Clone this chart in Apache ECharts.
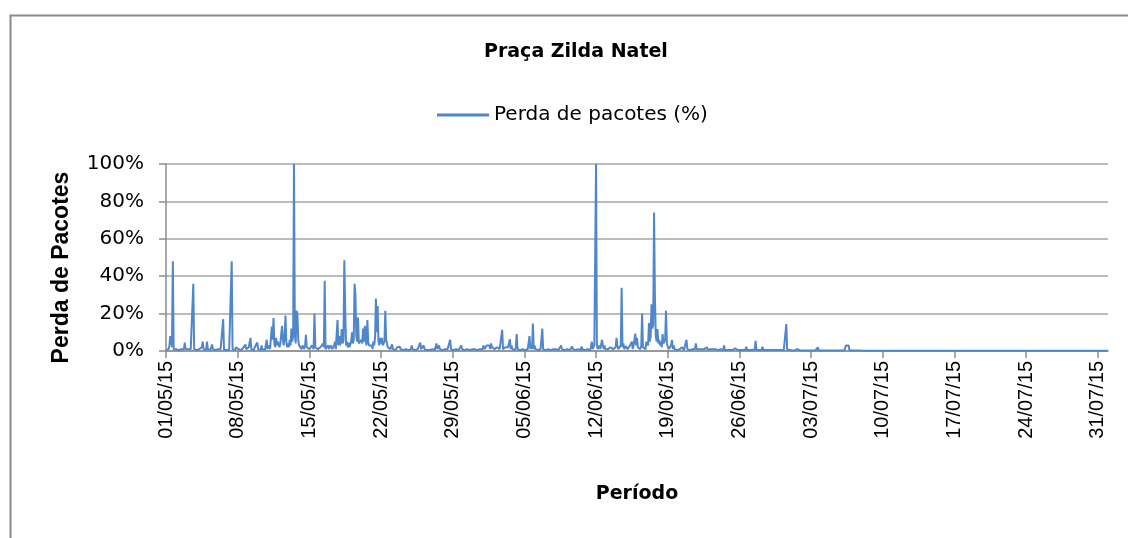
<!DOCTYPE html>
<html>
<head>
<meta charset="utf-8">
<script src="https://cdn.jsdelivr.net/npm/echarts@6/dist/echarts.min.js"></script>
<style>
  html, body { margin: 0; padding: 0; background: #fff; }
  #chart { width: 1128px; height: 538px; }
</style>
</head>
<body>
<div id="chart"></div>
<script>
// leituras a cada 2 h (00h, 02h, ... 22h), perda em %
var lossMay = [
  [0.5, 1, 0.5, 1, 3, 8, 6, 2, 48, 1, 0.5, 1],          // 01/05
  [1, 0.5, 1, 0.5, 1, 0.5, 1, 0.5, 1, 1, 4.5, 1],
  [1, 0.5, 1, 0.5, 1, 1, 0.5, 1, 36, 1, 0.5, 1],
  [0.5, 1, 0.5, 1, 0.5, 1, 2, 5, 1, 0.5, 1, 0.5],
  [5, 1, 0.5, 1, 0.5, 2, 3.5, 1, 0.5, 1, 0.5, 0.5],
  [0.5, 1, 0.5, 0.5, 1, 0.5, 1, 17, 0.5, 0.5, 1, 0.5],
  [0.5, 1, 0.5, 1, 0.5, 48, 1, 0.5, 1, 0.5, 2, 3],
  [3, 1, 0.5, 1, 0.5, 1, 0.5, 2, 1, 3.5, 1, 0.5],       // 08/05
  [1, 2, 1, 7, 1, 0.5, 1, 0.5, 2, 1, 3, 4.5],
  [1, 2, 1, 0.5, 3, 1, 2, 1, 0.5, 1, 6, 1],
  [1, 3, 1, 2, 13, 6, 17.6, 4, 2, 7, 3, 5],
  [5, 2, 4, 3, 13.5, 6, 3, 8, 19, 5, 2, 4],
  [2, 6, 3, 12, 5, 8, 100, 10, 4, 21.5, 20, 6],
  [3, 2, 4, 1, 3, 2, 1, 3, 8.6, 2, 1, 2],
  [1, 2, 1, 3, 2, 1, 20, 2, 1, 3, 1, 2],                // 15/05
  [1, 2, 1, 3, 4, 2, 37.5, 1, 2, 1, 3, 1],
  [1, 3, 2, 1, 2, 3, 5, 1, 2, 16.5, 3, 8],
  [3, 5, 11.7, 4, 6, 48.5, 22.4, 3, 5, 2, 4.5, 2],
  [3, 5, 10, 4, 6, 36, 30, 8, 5, 18, 4, 5],
  [3, 6, 4, 12, 5, 13.5, 6, 3, 16.5, 5, 3, 4],
  [2, 3, 1, 5, 3, 7, 28, 10, 24, 5, 3, 7],
  [4, 7, 3, 4, 5, 21.5, 6, 7, 2, 1, 3, 1],              // 22/05
  [2, 3.5, 1, 0.5, 1, 0.5, 1, 2, 1, 1, 2.3, 1],
  [0.5, 1, 0.5, 1, 0.5, 1, 0.5, 1, 0.5, 1, 0.5, 1],
  [3, 1, 0.5, 1, 0.5, 1, 0.5, 1, 0.5, 1, 4.5, 1],
  [0.5, 1, 3, 1, 0.5, 1, 0.5, 1, 1, 0.5, 1, 0.5],
  [1, 0.5, 1, 0.5, 1, 4, 1, 0.5, 3, 1, 0.5, 1],
  [0.5, 1, 0.5, 1, 1, 0.5, 1, 2, 1, 6, 1, 0.5],
  [1, 0.5, 1, 0.5, 1, 2, 1, 0.5, 1, 0.5, 3, 1],         // 29/05
  [0.5, 1, 0.5, 1, 0.5, 1, 0.5, 1, 0.5, 1, 0.5, 1],
  [0.5, 2, 1, 0.5, 1, 0.5, 1, 0.5, 1, 0.5, 1, 1]
];
var lossJun = [
  [3, 1, 2, 1, 3, 4, 2, 3, 1, 4, 2, 1],                 // 01/06
  [3, 1, 0.5, 1, 2, 1, 3, 1, 1, 2, 11.3, 1],
  [1, 1, 2, 3, 1, 2, 1, 6.3, 1, 3, 1, 0.5],
  [1, 0.5, 2, 9, 1, 0.5, 1, 0.5, 1, 0.5, 1, 0.5],
  [2, 0.5, 1, 0.5, 1, 2, 8, 1, 3, 1, 14.7, 1],          // 05/06
  [3, 1, 0.5, 1, 0.5, 1, 0.5, 1, 2, 12, 1, 0.5],
  [1, 0.5, 1, 0.5, 1, 0.5, 1, 0.5, 1, 0.5, 1, 0.5],
  [0.5, 1, 0.5, 1, 0.5, 1, 0.5, 3, 1, 0.5, 1, 0.5],
  [1, 0.5, 1, 0.5, 1, 0.5, 1, 0.5, 2.3, 1, 0.5, 1],
  [0.5, 1, 0.5, 1, 0.5, 1, 0.5, 2.3, 1, 0.5, 1, 0.5],
  [1, 0.5, 1, 2, 1, 0.5, 2, 5, 1, 2, 3, 4],
  [100, 3, 1, 2, 3, 1, 2, 6, 3, 1, 3, 1],               // 12/06
  [1, 2, 1, 0.5, 1, 2, 1, 2, 1, 0.5, 1, 2],
  [7, 3, 1, 2, 1, 3, 33.8, 2, 4, 1, 2, 2.5],
  [2.5, 1, 2, 1, 3, 2, 5, 1, 3, 4, 9.3, 3],
  [7, 2, 1, 2, 1, 3, 20, 2, 1, 3, 1, 5],
  [6, 3, 15, 5, 8, 25, 12, 14, 74, 29, 8, 5],
  [11.7, 4, 6, 3, 5, 2, 9, 4, 3, 6, 21.5, 4],
  [4, 1, 2, 1, 3, 6, 1, 3, 1, 0.5, 1, 0.5],             // 19/06
  [1, 0.5, 1, 0.5, 1, 2, 1, 0.5, 1, 1, 6, 1],
  [0.5, 1, 0.5, 1, 0.5, 1, 0.5, 1, 1, 4, 1, 0.5],
  [0.5, 1, 0.5, 0.5, 1, 0.5, 0.5, 1, 0.5, 0.5, 2, 0.5],
  [0.5, 0.5, 1, 0.5, 0.5, 1, 0.5, 0.5, 1, 0.5, 0.5, 0.5],
  [0.5, 0.5, 1, 0.5, 0.5, 0.5, 3, 0.5, 0.5, 1, 0.5, 0.5],
  [0.5, 0.5, 0.5, 0.5, 0.5, 0.5, 0.5, 1.5, 0.5, 0.5, 0.5, 0.5],
  [0.5, 0.5, 0.5, 0.5, 0.5, 0.5, 0.5, 0.5, 2.3, 0.5, 0.5, 0.5], // 26/06
  [0.5, 0.5, 0.5, 0.5, 0.5, 0.5, 1, 5.4, 0.5, 0.5, 0.5, 0.5],
  [0.5, 0.5, 0.5, 2.3, 0.5, 0.5, 0.5, 0.5, 0.5, 0.5, 0.5, 0.5],
  [0.5, 0.5, 0.5, 1.5, 0.5, 0.5, 0.5, 0.5, 0.5, 1.5, 0.5, 0.5],
  [0.5, 0.5, 0.5, 0.5, 0.5, 0.5, 0.5, 14.4, 0.5, 0.5, 0.5, 0.5]
];
var lossJul = [
  [0.3, 0.3, 0.3, 0.3, 0.3, 0.3, 0.3, 0.3, 1, 0.3, 0.3, 0.3], // 01/07
  [0.3, 0.3, 0.3, 0.3, 0.3, 0.3, 0.3, 1, 0.3, 0.3, 0.3, 0.3],
  [0.3, 0.3, 0.3, 0.3, 0.3, 0.3, 0.3, 0.3, 2, 0.3, 0.3, 0.3],
  [0.3, 0.3, 0.3, 0.3, 0.3, 0.3, 0.3, 0.3, 0.3, 0.3, 0.3, 0.3],
  [0.3, 0.3, 0.3, 0.3, 0.3, 0.3, 0.3, 0.3, 0.3, 0.3, 0.3, 0.3],
  [0.3, 0.3, 0.3, 0.3, 0.3, 3, 3, 3, 3, 0.3, 0.3, 0.3],
  [0.3, 0.3, 0.3, 0.3, 0.3, 0.3, 0.3, 0.3, 0.3, 0.3, 0.3, 0.3]
];
// de 08/07 até o fim do período a perda fica praticamente zerada
var quietLevel = 0.2;
var periodDays = 92;
var tickDays = [0, 7, 14, 21, 28, 35, 42, 49, 56, 63, 70, 77, 84, 91];

var seriesData = [];
var day = 0;
[lossMay, lossJun, lossJul].forEach(function (month) {
  month.forEach(function (row) {
    row.forEach(function (v, i) {
      seriesData.push([day + i / row.length, v]);
    });
    day++;
  });
});
seriesData.push([day, quietLevel]);
seriesData.push([periodDays, quietLevel]);

function pad(n) {
  return n < 10 ? '0' + n : '' + n;
}
function dayLabel(v) {
  var d = new Date(2015, 4, 1 + v);
  return pad(d.getDate()) + '/' + pad(d.getMonth() + 1) + '/15';
}

var myChart = echarts.init(document.getElementById('chart'));
var option = {
  animation: false,
  backgroundColor: '#fff',
  title: {
    text: 'Praça Zilda Natel',
    left: 479,
    top: 38,
    textStyle: {
      fontFamily: 'DejaVu Sans',
      fontWeight: 'bold',
      fontSize: 19,
      color: '#000'
    }
  },
  legend: {
    data: ['Perda de pacotes (%)'],
    left: 432,
    top: 100,
    icon: 'rect',
    itemWidth: 52,
    itemHeight: 3,
    itemGap: 6,
    textStyle: {
      fontFamily: 'DejaVu Sans',
      fontSize: 20,
      color: '#000'
    }
  },
  graphic: [
    {
      type: 'rect',
      left: 8,
      top: 13,
      shape: { width: 1200, height: 600 },
      style: { fill: 'none', stroke: '#8a8a8a', lineWidth: 2 },
      silent: true
    }
  ],
  grid: {
    left: 166,
    right: 20,
    top: 164,
    bottom: 187
  },
  xAxis: {
    type: 'value',
    min: 0,
    max: periodDays,
    interval: 7,
    name: 'Período',
    nameLocation: 'middle',
    nameGap: 134,
    nameTextStyle: {
      fontFamily: 'DejaVu Sans',
      fontWeight: 'bold',
      fontSize: 19,
      color: '#000',
      verticalAlign: 'top'
    },
    axisLine: { lineStyle: { color: '#8c8c8c', width: 1.5 } },
    axisTick: {
      show: true,
      length: 7,
      customValues: tickDays,
      lineStyle: { color: '#8c8c8c', width: 1.5 }
    },
    axisLabel: {
      rotate: 90,
      margin: 10,
      customValues: tickDays,
      formatter: dayLabel,
      fontFamily: 'Liberation Sans',
      fontSize: 20,
      color: '#000'
    },
    splitLine: { show: false }
  },
  yAxis: {
    type: 'value',
    min: 0,
    max: 100,
    interval: 20,
    name: 'Perda de Pacotes',
    nameLocation: 'middle',
    nameGap: 93,
    nameTextStyle: {
      fontFamily: 'Liberation Sans',
      fontWeight: 'bold',
      fontSize: 23,
      color: '#000',
      padding: [0, 20, 0, 0]
    },
    axisLine: { show: true, lineStyle: { color: '#8c8c8c', width: 1.5 } },
    axisTick: { show: true, length: 7, lineStyle: { color: '#8c8c8c', width: 1.5 } },
    axisLabel: {
      margin: 22,
      formatter: '{value}%',
      fontFamily: 'DejaVu Sans',
      fontSize: 20,
      color: '#000'
    },
    splitLine: { lineStyle: { color: '#a6a6a6', width: 1.5 } }
  },
  series: [
    {
      name: 'Perda de pacotes (%)',
      type: 'line',
      data: seriesData,
      symbol: 'none',
      color: '#4f86cc',
      lineStyle: { width: 2, color: '#4f86cc' }
    }
  ]
};
myChart.setOption(option);
</script>
</body>
</html>
